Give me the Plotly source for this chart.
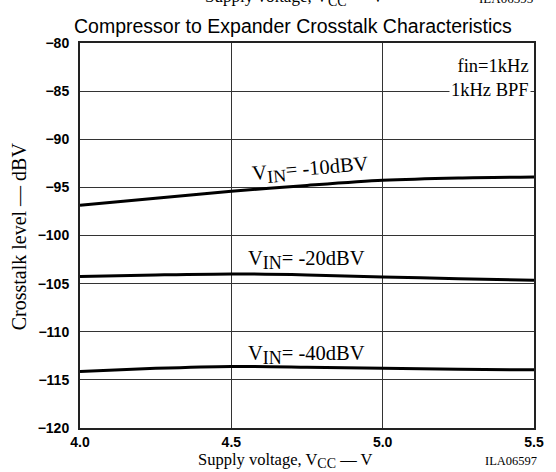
import plotly.graph_objects as go

# Supply voltage (V)
vcc = [4.0, 4.25, 4.5, 4.75, 5.0, 5.25, 5.5]

# Crosstalk level (dBV) for each input level
xt_m10 = [-96.87, -96.14, -95.41, -94.80, -94.27, -94.02, -93.92]
xt_m20 = [-104.27, -104.10, -103.99, -104.10, -104.30, -104.50, -104.65]
xt_m40 = [-114.13, -113.80, -113.60, -113.68, -113.80, -113.90, -113.96]

y_ticks = [-80, -85, -90, -95, -100, -105, -110, -115, -120]
x_ticks = [4.0, 4.5, 5.0, 5.5]

SERIF = "Liberation Serif, Times New Roman, serif"
SANS = "Liberation Sans, Arial, sans-serif"

fig = go.Figure()
for ys in (xt_m10, xt_m20, xt_m40):
    fig.add_trace(go.Scatter(
        x=vcc, y=ys, mode="lines",
        line=dict(color="black", width=3, shape="spline", smoothing=0.8),
        showlegend=False, hoverinfo="skip",
    ))

tickfont = dict(family=SANS, size=14, color="black", weight="bold")
fig.update_layout(
    width=556, height=472,
    margin=dict(l=80, r=12, t=43, b=44),
    paper_bgcolor="white", plot_bgcolor="white",
    xaxis=dict(
        range=[4.0, 5.5], tickvals=x_ticks,
        ticktext=[f"{v:.1f}" for v in x_ticks],
        showgrid=True, gridcolor="#333", gridwidth=1,
        showline=True, linecolor="#222", linewidth=2, mirror=True,
        ticks="", zeroline=False, tickfont=tickfont,
    ),
    yaxis=dict(
        range=[-120, -80], tickvals=y_ticks,
        ticktext=[f"\u2212{abs(v)}" for v in y_ticks],
        showgrid=True, gridcolor="#333", gridwidth=1,
        showline=True, linecolor="#222", linewidth=2, mirror=True,
        ticks="", zeroline=False, tickfont=tickfont,
        ticklabelstandoff=6,
    ),
)

SUB = '<sub><span style="font-size:18px">IN</span></sub>'
SUBCC = '<sub><span style="font-size:14px">CC</span></sub>'

annots = [
    # chart heading
    dict(text="Compressor to Expander Crosstalk Characteristics",
         x=298, y=26, font=dict(family=SANS, size=19.5, color="black")),
    # previous panel's caption, cut by the page top
    dict(text="Supply voltage, V" + SUBCC + " \u2014 V",
         x=300, y=-2, font=dict(family=SERIF, size=17, color="black")),
    dict(text="ILA06595", x=515, y=-2, font=dict(family=SERIF, size=13, color="black")),
    # axis captions
    dict(text="Supply voltage, V" + SUBCC + " \u2014 V",
         x=290, y=460, font=dict(family=SERIF, size=16.5, color="black")),
    dict(text="ILA06597", x=520, y=461, font=dict(family=SERIF, size=12.5, color="black")),
    dict(text="Crosstalk level \u2014 dBV", x=18, y=236, textangle=-90,
         font=dict(family=SERIF, size=20, color="black")),
]
for a in annots:
    fig.add_annotation(
        text=a["text"], xref="paper", yref="paper",
        x=(a["x"] - 80) / 464, y=1 - (a["y"] - 43) / 385,
        xanchor="center", yanchor="middle", showarrow=False,
        textangle=a.get("textangle", 0), font=a["font"],
    )

# test conditions box
fig.add_annotation(
    text="fin=1kHz<br>1kHz BPF", x=5.49, y=-81.1, xref="x", yref="y",
    xanchor="right", yanchor="top", align="right", showarrow=False,
    bgcolor="white", borderpad=1,
    font=dict(family=SERIF, size=18.5, color="black"),
)

# curve labels
for txt, xv, yv, ang in [
    ("V" + SUB + "= -10dBV", 4.76, -93.2, -5),
    ("V" + SUB + "= -20dBV", 4.748, -102.5, 0),
    ("V" + SUB + "= -40dBV", 4.748, -112.4, 0),
]:
    fig.add_annotation(
        text=txt, x=xv, y=yv, xref="x", yref="y", showarrow=False,
        textangle=ang, font=dict(family=SERIF, size=20.5, color="black"),
    )

fig.write_html("out.html")
